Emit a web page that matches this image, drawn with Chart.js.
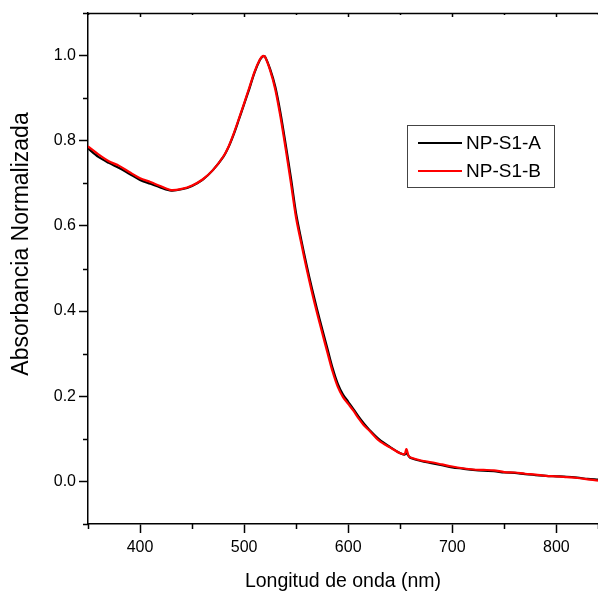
<!DOCTYPE html>
<html>
<head>
<meta charset="utf-8">
<script src="https://cdn.jsdelivr.net/npm/chart.js@4.4.0/dist/chart.umd.min.js"></script>
<style>
  html, body { margin: 0; padding: 0; background: #fff; }
  #wrap { width: 598px; height: 597px; }
</style>
</head>
<body>
<div id="wrap"><canvas id="absChart"></canvas></div>
<script>
// Espectros UV-Vis normalizados
const wavelengths = [350, 360, 370, 380, 390, 400, 410, 420, 430, 440, 450, 460, 470, 480,
    485, 490, 495, 500, 505, 510, 515, 518, 520, 525, 530, 535, 540, 545, 550, 555, 560,
    565, 570, 575, 580, 585, 590, 595, 600, 605, 610, 615, 620, 630, 640, 650, 654, 656,
    658, 660, 670, 680, 690, 700, 710, 720, 730, 740, 750, 760, 770, 780, 790, 800, 810,
    820, 830, 840];

const seriesA = [0.782, 0.762, 0.748, 0.736, 0.722, 0.708, 0.699, 0.690, 0.683, 0.686, 0.694, 0.708, 0.731, 0.762,
    0.785, 0.815, 0.850, 0.886, 0.922, 0.960, 0.989, 0.998, 0.998, 0.968, 0.926, 0.864, 0.790, 0.712, 0.628, 0.566, 0.508,
    0.455, 0.405, 0.358, 0.312, 0.266, 0.229, 0.204, 0.187, 0.170, 0.152, 0.136, 0.122, 0.098, 0.081, 0.066, 0.063, 0.066,
    0.060, 0.055, 0.048, 0.043, 0.038, 0.033, 0.030, 0.027, 0.025, 0.024, 0.021, 0.020, 0.017, 0.015, 0.013, 0.012, 0.011,
    0.009, 0.006, 0.004];

const seriesB = [0.787, 0.768, 0.752, 0.741, 0.726, 0.712, 0.703, 0.693, 0.684, 0.687, 0.695, 0.709, 0.731, 0.763,
    0.786, 0.817, 0.852, 0.888, 0.925, 0.962, 0.990, 0.999, 0.997, 0.965, 0.920, 0.855, 0.780, 0.700, 0.618, 0.558, 0.500,
    0.446, 0.396, 0.349, 0.303, 0.258, 0.222, 0.198, 0.182, 0.166, 0.148, 0.132, 0.120, 0.095, 0.080, 0.066, 0.064, 0.076,
    0.060, 0.056, 0.049, 0.045, 0.040, 0.035, 0.031, 0.028, 0.027, 0.026, 0.022, 0.021, 0.018, 0.016, 0.013, 0.012, 0.010,
    0.008, 0.005, 0.002];

const seriesLabels = ['NP-S1-A', 'NP-S1-B'];
const seriesColors = ['#000000', '#ff0000'];
const yTitle = 'Absorbancia Normalizada';

const FONT = "'Liberation Sans', Arial, sans-serif";

function toPoints(values) {
    return wavelengths.map((w, i) => ({ x: w, y: values[i] }));
}

function isMajorY(v) { return Math.round(v * 10) % 2 === 0; }
function isMajorX(v) { return Math.round(v) % 100 === 0; }

// minor ticks, top axis, y title and legend box
const frameExtras = {
    id: 'frameExtras',
    afterDraw(chart) {
        const { ctx, chartArea: a, scales: { x, y } } = chart;
        ctx.save();
        ctx.strokeStyle = '#000';
        ctx.lineWidth = 1.5;
        ctx.beginPath();
        ctx.moveTo(a.left, a.top + 0.5);
        ctx.lineTo(a.right, a.top + 0.5);
        x.ticks.forEach(t => {
            const px = Math.round(x.getPixelForValue(t.value)) + 0.5;
            if (!isMajorX(t.value)) {
                ctx.moveTo(px, a.bottom);
                ctx.lineTo(px, a.bottom + 5);
            }
            ctx.moveTo(px, a.top);
            ctx.lineTo(px, a.top + (isMajorX(t.value) ? 4 : 2));
        });
        y.ticks.forEach(t => {
            if (isMajorY(t.value)) return;
            const py = Math.round(y.getPixelForValue(t.value)) + 0.5;
            ctx.moveTo(a.left - 5, py);
            ctx.lineTo(a.left, py);
        });
        ctx.stroke();

        // y axis title (sits a bit above the plot centre in the original)
        ctx.save();
        ctx.translate(28, 244);
        ctx.rotate(-Math.PI / 2);
        ctx.font = '23px ' + FONT;
        ctx.textAlign = 'center';
        ctx.textBaseline = 'alphabetic';
        ctx.fillStyle = '#000';
        ctx.fillText(yTitle, 0, 0);
        ctx.restore();

        // legend
        const bx = 407.5, by = 125.5, bw = 147, bh = 62;
        ctx.lineWidth = 1;
        ctx.strokeStyle = '#444';
        ctx.strokeRect(bx, by, bw, bh);
        ctx.font = '19px ' + FONT;
        ctx.textBaseline = 'middle';
        ctx.fillStyle = '#000';
        chart.data.datasets.forEach((ds, i) => {
            const ly = 143 + i * 28;
            ctx.strokeStyle = ds.borderColor;
            ctx.lineWidth = 2;
            ctx.beginPath();
            ctx.moveTo(418, ly);
            ctx.lineTo(462, ly);
            ctx.stroke();
            ctx.fillText(ds.label, 466, ly + 1);
        });
        ctx.restore();
    }
};

new Chart(document.getElementById('absChart'), {
    type: 'line',
    data: {
        datasets: [
            { label: seriesLabels[0], data: toPoints(seriesA), borderColor: seriesColors[0], order: 1 },
            { label: seriesLabels[1], data: toPoints(seriesB), borderColor: seriesColors[1], order: 0 }
        ]
    },
    options: {
        responsive: true,
        maintainAspectRatio: false,
        animation: false,
        layout: { padding: { top: 13, right: 0, left: 0, bottom: 0 } },
        elements: {
            point: { radius: 0 },
            line: { borderWidth: 2.2, tension: 0.3 }
        },
        plugins: {
            legend: { display: false },
            tooltip: { enabled: false }
        },
        scales: {
            x: {
                type: 'linear',
                min: 350,
                max: 840,
                afterFit(scale) {
                    scale.height = 73;
                    scale.paddingLeft = 0;
                    scale.paddingRight = 0;
                },
                border: { display: true, color: '#000', width: 1.5 },
                grid: {
                    drawOnChartArea: false,
                    tickLength: 9,
                    tickWidth: 1.5,
                    tickColor: ctx => isMajorX(ctx.tick.value) ? '#000' : 'rgba(0,0,0,0)'
                },
                ticks: {
                    stepSize: 50,
                    autoSkip: false,
                    maxRotation: 0,
                    padding: 5,
                    color: '#000',
                    font: { family: FONT, size: 16 },
                    callback: v => isMajorX(v) ? String(v) : ''
                },
                title: {
                    display: true,
                    text: 'Longitud de onda (nm)',
                    color: '#000',
                    font: { family: FONT, size: 19.5 },
                    padding: { top: 6 }
                }
            },
            y: {
                type: 'linear',
                min: -0.1,
                max: 1.1,
                afterFit(scale) {
                    scale.width = 88;
                    scale.paddingTop = 0;
                    scale.paddingBottom = 0;
                },
                border: { display: true, color: '#000', width: 1.5 },
                grid: {
                    drawOnChartArea: false,
                    tickLength: 9,
                    tickWidth: 1.5,
                    tickColor: ctx => isMajorY(ctx.tick.value) ? '#000' : 'rgba(0,0,0,0)'
                },
                ticks: {
                    stepSize: 0.1,
                    autoSkip: false,
                    padding: 3,
                    color: '#000',
                    font: { family: FONT, size: 16 },
                    callback: v => isMajorY(v) ? v.toFixed(1) : ''
                },
                title: { display: false }
            }
        }
    },
    plugins: [frameExtras]
});
</script>
</body>
</html>
